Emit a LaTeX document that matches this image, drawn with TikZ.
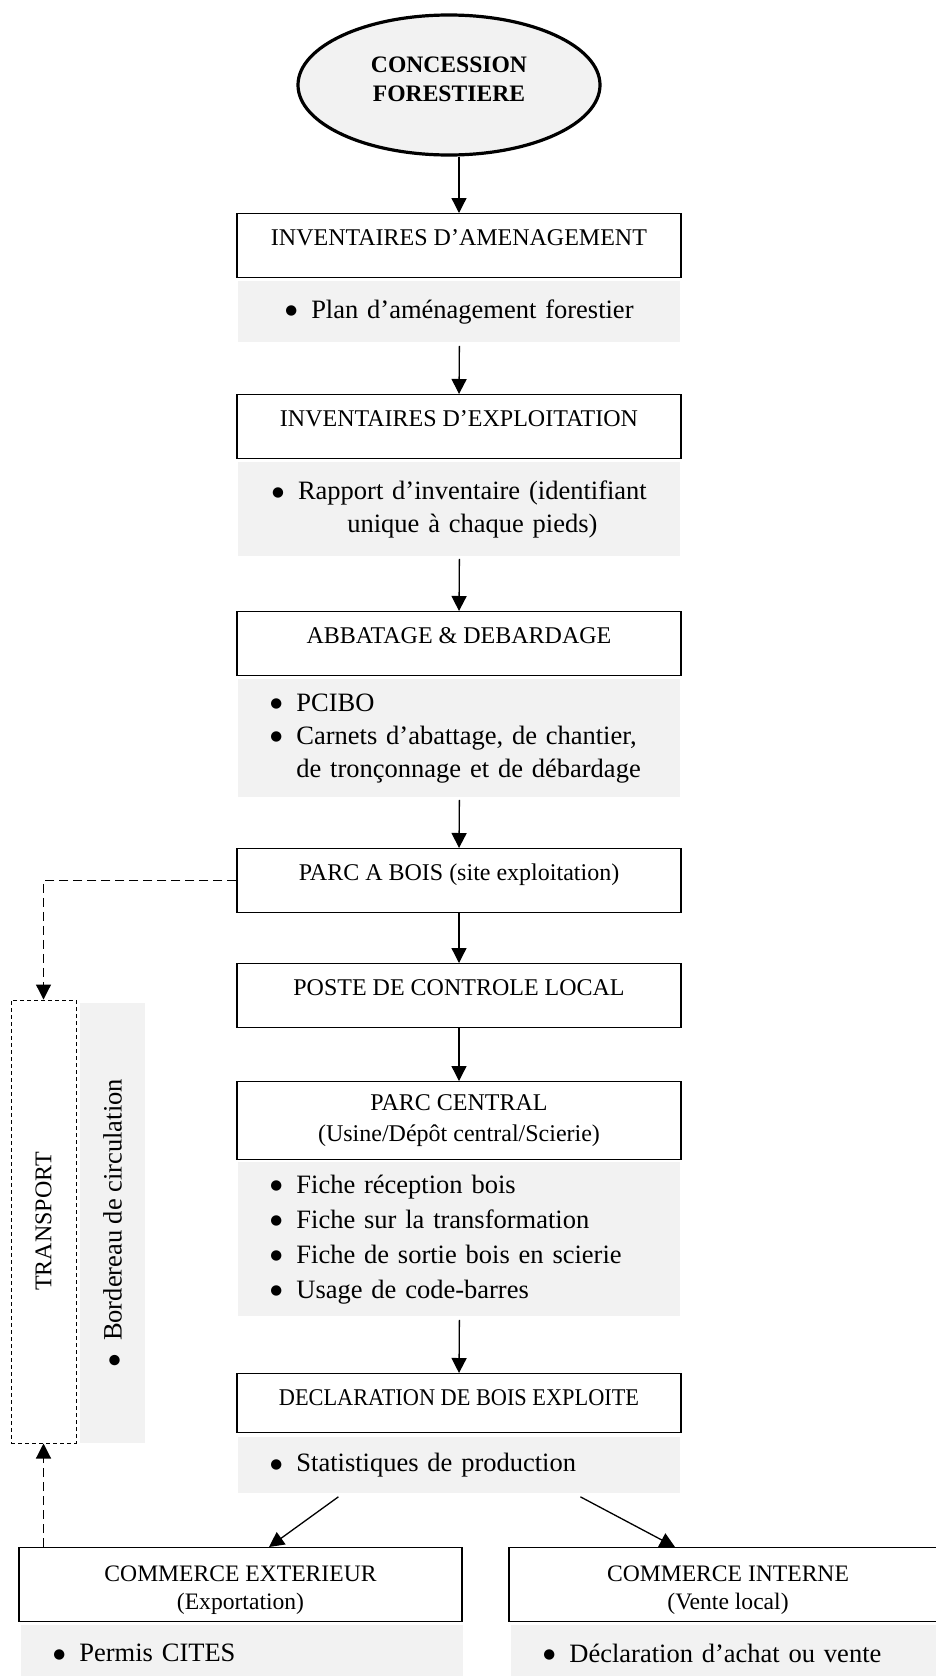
\documentclass[tikz,border=0pt]{standalone}
\usepackage{fontspec}
\setmainfont{Liberation Serif}
\newfontfamily\symb{DejaVu Sans}
\usepackage{xcolor}
\usepackage{tikz}
\usetikzlibrary{shapes.geometric,arrows.meta}
\definecolor{fond}{HTML}{F2F2F2}
\newcommand{\puce}{\makebox[13pt][l]{\raisebox{1.7pt}{\symb\fontsize{6.8pt}{6.8pt}\selectfont ●}}}

\begin{document}
\begin{tikzpicture}
[x=0.5pt,y=-0.5pt,
cadre/.style={draw,line width=0.7pt,minimum width=222pt,inner ysep=0pt,
font=\fontsize{12pt}{15.5pt}\selectfont},
etape/.style={cadre,anchor=north,text height=16pt,text depth=#1},
etape/.default=16pt,
bloc/.style={cadre,anchor=north,align=center,minimum height=#1},
piece/.style={fill=fond,anchor=north west,inner xsep=16pt,inner ysep=0pt,
text width=189pt,minimum height=#1,
font=\fontsize{13.25pt}{16.5pt}\selectfont},
fleche/.style={line width=0.65pt,-{Triangle[length=7.5pt,width=7.5pt]}},
tirets/.style={line width=0.6pt,dash pattern=on 4.5pt off 2.5pt,
-{Triangle[length=7.5pt,width=7.5pt]}}]
\useasboundingbox (0,0) rectangle (936,1676);

\node[ellipse,draw,line width=1.6pt,fill=fond,minimum width=151pt,
minimum height=70pt,inner sep=0pt,align=center,text depth=6pt,
font=\bfseries\fontsize{11.8pt}{14.5pt}\selectfont] (concession) at (449,85)
{CONCESSION\\FORESTIERE};

\node[etape] (amenag) at (459,213) {INVENTAIRES D’AMENAGEMENT};
\node[piece=30.5pt,align=center] (amenagdoc) at (238,281)
{\puce Plan d’aménagement forestier};

\node[etape] (exploit) at (459,394) {INVENTAIRES D’EXPLOITATION};
\node[piece=47pt,align=center] (exploitdoc) at (238,462)
{\puce\begin{tabular}[t]{@{}c@{}}Rapport d’inventaire (identifiant\\
unique à chaque pieds)\end{tabular}};

\node[etape] (abattage) at (459,611) {ABBATAGE \& DEBARDAGE};
\node[piece=59pt,align=left] (abattagedoc) at (238,679)
{\puce PCIBO\\
\puce Carnets d’abattage, de chantier,\\
\hspace*{13pt}de tronçonnage et de débardage};

\node[etape] (parcbois) at (459,848) {PARC A BOIS (site exploitation)};
\node[etape] (poste) at (459,963) {POSTE DE CONTROLE LOCAL};

\node[bloc=39pt] (parccentral) at (459,1081)
{PARC CENTRAL\\(Usine/Dépôt central/Scierie)};
\node[piece=77pt,align=left,font=\fontsize{13.25pt}{17.5pt}\selectfont]
(parcdoc) at (238,1162)
{\puce Fiche réception bois\\
\puce Fiche sur la transformation\\
\puce Fiche de sortie bois en scierie\\
\puce Usage de code-barres};

\node[etape=13.5pt] (declaration) at (459,1373)
{\scalebox{0.93}[1]{DECLARATION DE BOIS EXPLOITE}};
\node[piece=28pt,align=left] (declarationdoc) at (238,1437)
{\puce Statistiques de production};

\node[etape=20.25pt,text height=16.75pt,minimum width=221.5pt,
font=\fontsize{11.8pt}{14.25pt}\selectfont] (exterieur) at (240.5,1547)
{\begin{tabular}[t]{@{}c@{}}COMMERCE EXTERIEUR\\(Exportation)\end{tabular}};
\node[piece=27.5pt,align=left] (exterieurdoc) at (21,1625)
{\puce Permis CITES};

\node[etape=20.25pt,text height=16.75pt,minimum width=219pt,
font=\fontsize{11.8pt}{14.25pt}\selectfont] (interne) at (728,1547)
{\begin{tabular}[t]{@{}c@{}}COMMERCE INTERNE\\(Vente local)\end{tabular}};
\node[piece=27.5pt,align=left] (internedoc) at (511,1625)
{\puce Déclaration d’achat ou vente};

\node[draw,line width=0.5pt,dash pattern=on 2pt off 1.5pt,minimum width=32.5pt,
minimum height=221.5pt,inner sep=0pt,font=\fontsize{12pt}{15.5pt}\selectfont]
(transport) at (43.5,1221.5) {\rotatebox{90}{TRANSPORT}};
\node[fill=fond,minimum width=32.5pt,minimum height=220pt,inner sep=0pt,
font=\fontsize{13.25pt}{16.5pt}\selectfont]
(bordereau) at (112.5,1223) {\rotatebox{90}{\puce Bordereau de circulation}};

\draw[fleche] (concession.south -| amenag) -- (amenag.north);
\draw[fleche] ([yshift=-1.5pt]amenagdoc.south) -- (exploit.north);
\draw[fleche] ([yshift=-1pt]exploitdoc.south) -- (abattage.north);
\draw[fleche] ([yshift=-1pt]abattagedoc.south) -- (parcbois.north);
\draw[fleche] (parcbois) -- (poste);
\draw[fleche] (poste) -- (parccentral);
\draw[fleche] ([yshift=-1.5pt]parcdoc.south) -- (declaration.north);
\draw[fleche] ([xshift=-60.5pt,yshift=-1.5pt]declarationdoc.south)
-- ([xshift=14.25pt]exterieur.north);
\draw[fleche] ([xshift=60.5pt,yshift=-1.5pt]declarationdoc.south)
-- ([xshift=-26.5pt]interne.north);
\draw[tirets] (parcbois.west) -| (transport.north);
\draw[tirets] (exterieur.north -| transport.south) -- (transport.south);
\end{tikzpicture}
\end{document}
